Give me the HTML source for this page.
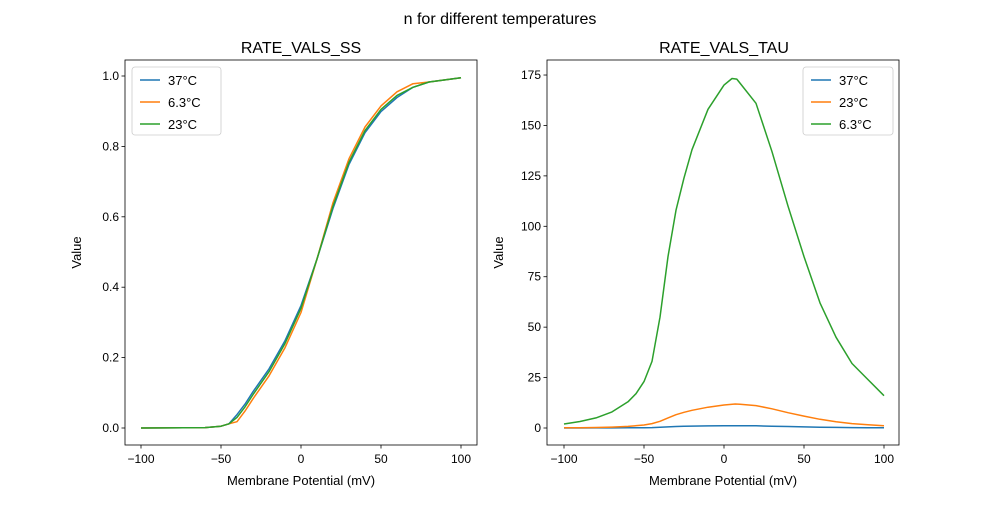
<!DOCTYPE html>
<html><head><meta charset="utf-8"><style>
body{margin:0;background:#fff;}
svg text{font-family:"Liberation Sans","DejaVu Sans",sans-serif;fill:#000;}
</style></head><body>
<svg id="s" width="1000" height="500" xmlns="http://www.w3.org/2000/svg">
<rect width="1000" height="500" fill="#fff"/>
<text x="500" y="24" font-size="16" text-anchor="middle">n for different temperatures</text>
<text x="301" y="53" font-size="16" text-anchor="middle">RATE_VALS_SS</text>
<text x="724" y="53" font-size="16" text-anchor="middle">RATE_VALS_TAU</text>
<g id="g"></g>
</svg>
<script>
const g=document.getElementById('g');let h='';
function ax(x0,x1,y0,y1,yt,ymap,xmap,lab){
 h+=`<rect x="${x0}" y="${y0}" width="${x1-x0}" height="${y1-y0}" fill="none" stroke="#000" stroke-width="0.8"/>`;
 for(const v of [-100,-50,0,50,100]){const x=xmap(v);h+=`<line x1="${x}" x2="${x}" y1="${y1}" y2="${y1+3.5}" stroke="#000" stroke-width="0.8"/><text x="${x}" y="${y1+18}" font-size="12" text-anchor="middle">${v<0?'\u2212'+(-v):v}</text>`;}
 for(const [v,t] of yt){const y=ymap(v);h+=`<line x1="${x0-3.5}" x2="${x0}" y1="${y}" y2="${y}" stroke="#000" stroke-width="0.8"/><text x="${x0-6}" y="${y+4}" font-size="12" text-anchor="end">${t}</text>`;}
 h+=`<text x="${(x0+x1)/2}" y="${y1+40}" font-size="13" text-anchor="middle">Membrane Potential (mV)</text>`;
 h+=`<text transform="translate(${x0-44},${(y0+y1)/2}) rotate(-90)" font-size="13" text-anchor="middle">Value</text>`;
}
function line(pts,xmap,ymap,c){h+=`<polyline fill="none" stroke="${c}" stroke-width="1.5" stroke-linejoin="round" points="${pts.map(p=>xmap(p[0]).toFixed(1)+','+ymap(p[1]).toFixed(1)).join(' ')}"/>`;}
function leg(x,y,w,items){h+=`<rect x="${x}" y="${y}" width="${w}" height="${items.length*22+2}" rx="3" fill="#fff" stroke="#ccc" stroke-width="0.8"/>`;
 items.forEach((it,i)=>{const yy=y+13+i*22;h+=`<line x1="${x+8}" x2="${x+28}" y1="${yy}" y2="${yy}" stroke="${it[1]}" stroke-width="1.5"/><text x="${x+36}" y="${yy+5}" font-size="13">${it[0]}</text>`;});}
const B='#1f77b4',O='#ff7f0e',G='#2ca02c';
const lx=v=>301+1.6*v, ly=v=>428-352*v;
ax(125,477,60,445,[0,.2,.4,.6,.8,1].map(v=>[v,v.toFixed(1)]),ly,lx);
const ss=[[-100,0],[-60,0.001],[-50,0.005],[-45,0.012],[-40,0.03],[-35,0.06],[-30,0.095],[-20,0.16],[-10,0.24],[0,0.34],[10,0.48],[20,0.63],[30,0.755],[40,0.845],[50,0.905],[60,0.945],[70,0.968],[80,0.983],[100,0.995]];
line(ss.map(p=>[p[0],p[1]+(p[0]<5&&p[0]>-45?0.008:0)-(p[0]>15&&p[0]<70?0.006:0)]),lx,ly,B);
line(ss.map(p=>[p[0],p[1]-(p[0]<5&&p[0]>-45?0.012:0)+(p[0]>15&&p[0]<80?0.01:0)]),lx,ly,O);
line(ss,lx,ly,G);
leg(132,67,89,[['37°C',B],['6.3°C',O],['23°C',G]]);
const rx=v=>724+1.6*v, ry=v=>428-2.017*v;
ax(547,899,60,445,[0,25,50,75,100,125,150,175].map(v=>[v,v]),ry,rx);
const t=[[-100,2],[-90,3.2],[-80,5],[-70,8],[-60,13],[-55,17],[-50,23],[-45,33],[-40,55],[-35,85],[-30,108],[-25,124],[-20,138],[-10,158],[0,170],[5,173.3],[8,173],[10,171],[20,161],[30,137],[40,110],[50,85],[60,62],[70,45],[80,32],[90,24],[100,16]];
line(t.map(p=>[p[0],p[1]/150]),rx,ry,B);
const o=[[-100,0.1],[-90,0.15],[-80,0.25],[-70,0.45],[-60,0.8],[-50,1.5],[-45,2.2],[-40,3.3],[-35,5],[-30,6.6],[-25,7.8],[-20,8.8],[-10,10.3],[0,11.4],[7,11.9],[10,11.8],[20,11.1],[30,9.5],[40,7.6],[50,5.9],[60,4.3],[70,3.1],[80,2.2],[90,1.65],[100,1.1]];
line(o,rx,ry,O);
line(t,rx,ry,G);
leg(803,67,90,[['37°C',B],['23°C',O],['6.3°C',G]]);
g.innerHTML=h;
</script>
</body></html>
